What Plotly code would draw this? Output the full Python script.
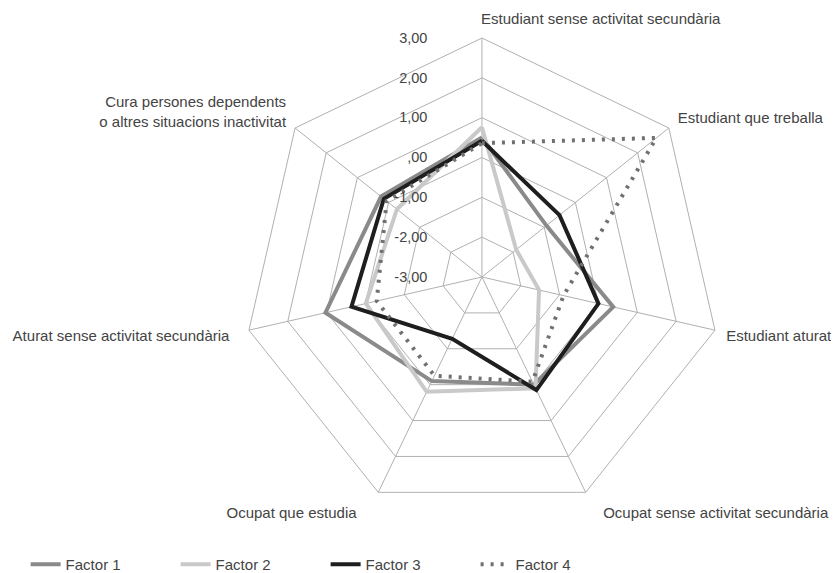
import plotly.graph_objects as go

categories = [
    "Estudiant sense activitat secundària",
    "Estudiant que treballa",
    "Estudiant aturat",
    "Ocupat sense activitat secundària",
    "Ocupat que estudia",
    "Aturat sense activitat secundària",
    "Cura persones dependents<br>o altres situacions inactivitat",
]
factor1 = [0.50, -0.93, 0.38, 0.00, -0.10, 1.03, 0.24]
factor2 = [0.76, -1.90, -1.53, 0.10, 0.20, -0.01, -0.27]
factor3 = [0.42, -0.51, 0.00, 0.15, -1.28, 0.36, 0.15]
factor4 = [0.36, 2.60, -0.90, -0.08, -0.25, -0.29, 0.06]
series_names = ["Factor 1", "Factor 2", "Factor 3", "Factor 4"]
tick_vals = [-3, -2, -1, 0, 1, 2, 3]
tick_text = ["-3,00", "-2,00", "-1,00", ",00", "1,00", "2,00", "3,00"]

# label alignment tweaks (no-break-space padding) to mimic the original placement
NB = "\u00a0"
cat_text = list(categories)
cat_text[0] = NB * 57 + categories[0]
cat_text[3] = NB * 3 + categories[3]
cat_text[4] = categories[4] + NB * 4
cat_text[5] = categories[5] + NB * 2

styles = [
    dict(color="#8a8a8a", width=4, dash="solid"),
    dict(color="#c9c9c9", width=4, dash="solid"),
    dict(color="#1e1e1e", width=4, dash="solid"),
    dict(color="#707070", width=4, dash="3px,7px"),
]

fig = go.Figure()
for name, vals, st in zip(series_names, [factor1, factor2, factor3, factor4], styles):
    fig.add_trace(go.Scatterpolar(
        r=vals + vals[:1],
        theta=categories + categories[:1],
        mode="lines",
        name=name,
        line=st,
    ))

fig.update_layout(
    width=839, height=573,
    paper_bgcolor="white", plot_bgcolor="white",
    margin=dict(l=0, r=0, t=30, b=65, autoexpand=False),
    font=dict(family="Liberation Sans, Arial, sans-serif", size=15, color="#444444"),
    polar=dict(
        domain=dict(x=[0.2800, 0.8498], y=[0, 1]),
        gridshape="linear",
        bgcolor="white",
        radialaxis=dict(
            range=[-3, 3],
            tickvals=tick_vals,
            ticktext=tick_text,
            angle=90,
            tickangle=90,
            side="counterclockwise",
            showline=False,
            gridcolor="#b0b0b0",
            gridwidth=1,
            ticks="outside",
            ticklen=49,
            tickcolor="rgba(0,0,0,0)",
            tickfont=dict(size=14.5, color="#444444"),
        ),
        angularaxis=dict(
            rotation=90,
            direction="clockwise",
            tickvals=categories,
            ticktext=cat_text,
            gridcolor="#b0b0b0",
            gridwidth=1,
            showline=True,
            linecolor="#b0b0b0",
            linewidth=1,
            ticks="outside",
            ticklen=8,
            tickcolor="rgba(0,0,0,0)",
            tickfont=dict(size=15, color="#444444"),
        ),
    ),
    legend=dict(
        orientation="h",
        x=0.021, xanchor="left",
        y=-0.136, yanchor="bottom",
        font=dict(size=15, color="#444444"),
        entrywidth=105, entrywidthmode="pixels",
    ),
)

fig.write_html("out.html")
